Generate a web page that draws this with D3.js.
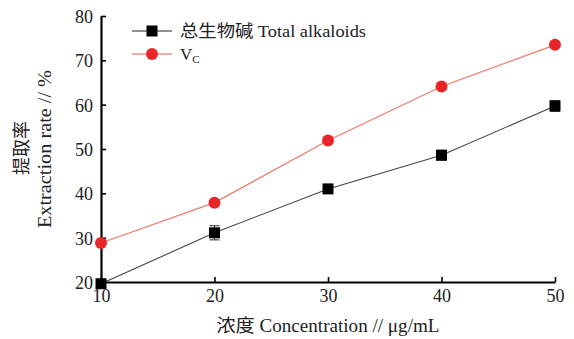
<!DOCTYPE html>
<html><head><meta charset="utf-8">
<script src="https://cdn.jsdelivr.net/npm/d3@7"></script>
<style>body{margin:0;background:#fff}svg{display:block}</style>
</head><body>
<script>
const concentrations = [10, 20, 30, 40, 50];
const alkaloids = [19.6, 31.1, 41.0, 48.6, 59.7];
const alkaloidsErr = [0.6, 1.6, 0.5, 1.1, 1.2];
const vc = [28.8, 37.9, 51.9, 64.1, 73.5];
const xTicks = [10, 20, 30, 40, 50];
const yTicks = [20, 30, 40, 50, 60, 70, 80];

const W = 574, H = 339;
const FONT = "'Liberation Serif', 'Noto Sans CJK SC', serif";
const svg = d3.select("body").append("svg").attr("width", W).attr("height", H);
const x = d3.scaleLinear().domain([10, 50]).range([101, 555]);
const y = d3.scaleLinear().domain([20, 80]).range([282, 16]);

// axes
const xAxis = svg.append("g").attr("transform", `translate(0,${y(20)})`)
  .call(d3.axisBottom(x).tickValues(xTicks).tickSizeInner(-5).tickSizeOuter(0).tickPadding(10));
const yAxis = svg.append("g").attr("transform", `translate(${x(10)},0)`)
  .call(d3.axisLeft(y).tickValues(yTicks).tickSizeInner(-5).tickSizeOuter(0).tickPadding(8));
[xAxis, yAxis].forEach(g => {
  g.select(".domain").attr("stroke", "#000").attr("stroke-width", 2.2);
  g.selectAll(".tick line").attr("stroke", "#000").attr("stroke-width", 1.6);
  g.selectAll(".tick text").attr("font-family", FONT).attr("font-size", 19).attr("fill", "#222")
    .attr("textLength", 18).attr("lengthAdjust", "spacingAndGlyphs");
});
xAxis.selectAll(".tick text").attr("dy", "0.55em");
yAxis.selectAll(".tick text").attr("dy", "0.35em");

// series lines
const line = d3.line().x((d, i) => x(concentrations[i])).y(d => y(d));
svg.append("path").datum(vc).attr("d", line).attr("fill", "none").attr("stroke", "#f07a68").attr("stroke-width", 1.2);
svg.append("path").datum(alkaloids).attr("d", line).attr("fill", "none").attr("stroke", "#444").attr("stroke-width", 1.1);

// error bars
const eb = svg.append("g").attr("stroke", "#333").attr("stroke-width", 1);
alkaloids.forEach((v, i) => {
  const cx = x(concentrations[i]);
  eb.append("line").attr("x1", cx).attr("x2", cx).attr("y1", y(v + alkaloidsErr[i])).attr("y2", y(v - alkaloidsErr[i]));
  [v + alkaloidsErr[i], v - alkaloidsErr[i]].forEach(e =>
    eb.append("line").attr("x1", cx - 5).attr("x2", cx + 5).attr("y1", y(e)).attr("y2", y(e)));
});

// markers
svg.append("g").selectAll("rect").data(alkaloids).join("rect")
  .attr("x", (d, i) => x(concentrations[i]) - 5.5).attr("y", d => y(d) - 5.5)
  .attr("width", 11).attr("height", 11).attr("fill", "#000");
svg.append("g").selectAll("circle").data(vc).join("circle")
  .attr("cx", (d, i) => x(concentrations[i])).attr("cy", d => y(d)).attr("r", 6).attr("fill", "#e8262a");

// legend
const lg = svg.append("g");
lg.append("line").attr("x1", 132).attr("x2", 172).attr("y1", 31).attr("y2", 31).attr("stroke", "#222").attr("stroke-width", 1.2);
lg.append("rect").attr("x", 146.5).attr("y", 25.5).attr("width", 11).attr("height", 11).attr("fill", "#000");
lg.append("line").attr("x1", 132).attr("x2", 172).attr("y1", 54).attr("y2", 54).attr("stroke", "#f05a4a").attr("stroke-width", 1.2);
lg.append("circle").attr("cx", 152).attr("cy", 54).attr("r", 6).attr("fill", "#e8262a");
lg.append("text").attr("x", 180).attr("y", 37).attr("font-family", FONT).attr("font-size", 17).attr("fill", "#222")
  .attr("textLength", 186).attr("lengthAdjust", "spacingAndGlyphs").text("总生物碱 Total alkaloids");
const vt = lg.append("text").attr("x", 180).attr("y", 60).attr("font-family", FONT).attr("font-size", 17).attr("fill", "#222");
vt.append("tspan").text("V");
vt.append("tspan").attr("font-size", 11).attr("dy", 3).text("C");

// axis titles
svg.append("text").attr("x", 328).attr("y", 332).attr("text-anchor", "middle").attr("font-family", FONT)
  .attr("font-size", 18).attr("fill", "#222").attr("textLength", 223).attr("lengthAdjust", "spacingAndGlyphs")
  .text("浓度 Concentration // μg/mL");
svg.append("text").attr("transform", "translate(28,148) rotate(-90)").attr("text-anchor", "middle")
  .attr("font-family", FONT).attr("font-size", 18).attr("fill", "#222").text("提取率");
svg.append("text").attr("transform", "translate(51,149) rotate(-90)").attr("text-anchor", "middle")
  .attr("font-family", FONT).attr("font-size", 18).attr("fill", "#222").attr("textLength", 158).attr("lengthAdjust", "spacingAndGlyphs")
  .text("Extraction rate // %");
</script>
</body></html>
